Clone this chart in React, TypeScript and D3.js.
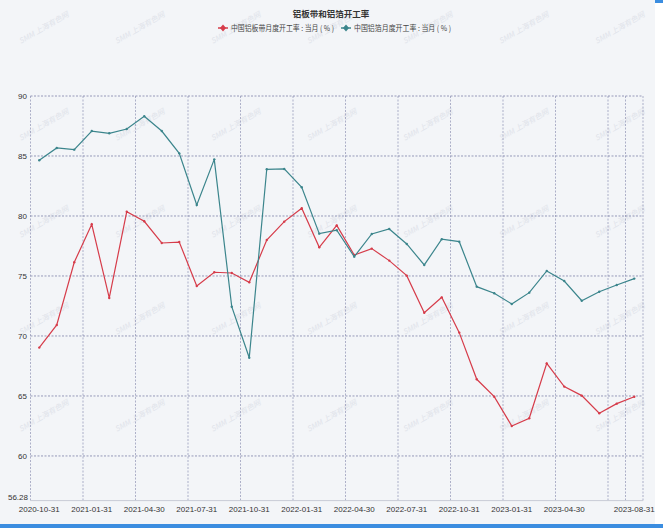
import React from "react";
import * as d3 from "d3";

const WIDTH = 663;
const HEIGHT = 528;

const TITLE = "铝板带和铝箔开工率";
const seriesNames = ["中国铝板带月度开工率 : 当月 ( % )", "中国铝箔月度开工率 : 当月 ( % )"];
const COLORS = ["#d63c4a", "#3b858c"];

const dates = [
  "2020-10-31", "2020-11-30", "2020-12-31",
  "2021-01-31", "2021-02-28", "2021-03-31", "2021-04-30", "2021-05-31", "2021-06-30",
  "2021-07-31", "2021-08-31", "2021-09-30", "2021-10-31", "2021-11-30", "2021-12-31",
  "2022-01-31", "2022-02-28", "2022-03-31", "2022-04-30", "2022-05-31", "2022-06-30",
  "2022-07-31", "2022-08-31", "2022-09-30", "2022-10-31", "2022-11-30", "2022-12-31",
  "2023-01-31", "2023-02-28", "2023-03-31", "2023-04-30", "2023-05-31", "2023-06-30",
  "2023-07-31", "2023-08-31",
];

const stripRate = [
  69.03, 70.92, 76.14, 79.31, 73.17, 80.36, 79.56, 77.75, 77.83, 74.17, 75.31, 75.25,
  74.47, 78.0, 79.53, 80.64, 77.39, 79.22, 76.75, 77.28, 76.28, 75.03, 71.94, 73.22,
  70.28, 66.39, 64.94, 62.5, 63.14, 67.72, 65.78, 65.03, 63.56, 64.36, 64.94,
];

const foilRate = [
  84.64, 85.67, 85.53, 87.08, 86.89, 87.25, 88.31, 87.08, 85.22, 80.92, 84.72, 72.44,
  68.19, 83.89, 83.92, 82.39, 78.53, 78.81, 76.61, 78.5, 78.92, 77.67, 75.92, 78.06,
  77.86, 74.11, 73.56, 72.67, 73.61, 75.42, 74.58, 72.94, 73.69, 74.25, 74.78,
];

const yTicks = [60, 65, 70, 75, 80, 85, 90];
const yMin = 56.28;
const yMax = 90;

const labelDates = [
  "2020-10-31", "2021-01-31", "2021-04-30", "2021-07-31", "2021-10-31", "2022-01-31",
  "2022-04-30", "2022-07-31", "2022-10-31", "2023-01-31", "2023-04-30", "2023-08-31",
];
const gridDates = [
  "2020-10-31", "2021-01-31", "2021-04-30", "2021-07-31", "2021-10-31", "2022-01-31",
  "2022-04-30", "2022-07-31", "2022-10-31", "2023-01-31", "2023-04-30", "2023-07-31",
  "2023-08-31",
];

const FONT = "'Noto Sans CJK SC', 'Liberation Sans', sans-serif";
const NUM_FONT = "'Liberation Sans', sans-serif";
const GRID = "#7d82a8";

function App() {
  const x = d3.scaleBand<string>().domain(dates).range([30.5, 643]);
  const y = d3.scaleLinear().domain([yMin, yMax]).range([500.6, 96]);
  const cx = (d: string) => (x(d) ?? 0) + x.bandwidth() / 2;

  const series = [stripRate, foilRate];
  const line = d3
    .line<number>()
    .x((_, i) => cx(dates[i]))
    .y((v) => y(v));

  const [x0, x1] = x.range();
  const [yb, yt] = y.range();

  // faint watermark grid
  const marks: [number, number][] = [];
  for (let r = 0; r < 5; r++)
    for (let c = 0; c < 7; c++) marks.push([45 + c * 96, 30 + r * 97]);

  const legendX = [223, 346];
  const legendW = [103, 97];

  return (
    <svg
      width={WIDTH}
      height={HEIGHT}
      style={{ position: "absolute", left: 0, top: 0, fontFamily: FONT }}
    >
      <rect x={0} y={0} width={655} height={524} fill="#f3f5f8" />
      <rect x={0} y={524} width={WIDTH} height={4} fill="#3b8de0" />
      <rect x={655} y={0} width={8} height={3} fill="#3b8de0" />

      {marks.map(([mx, my], i) => (
        <text
          key={i}
          x={mx}
          y={my}
          transform={`rotate(-30 ${mx} ${my})`}
          fontSize={7.5}
          fontStyle="italic"
          fill="#e0e3ea"
          textAnchor="middle"
        >
          SMM 上海有色网
        </text>
      ))}

      <text x={331} y={17} textAnchor="middle" fontSize={8.5} fontWeight={700} fill="#333">
        {TITLE}
      </text>

      {seriesNames.map((name, i) => (
        <g key={name} transform={`translate(${legendX[i]} 31)`}>
          <line x1={-5} x2={5} y1={-3} y2={-3} stroke={COLORS[i]} strokeWidth={1.5} />
          <path d="M0,-6.5L3,-3L0,0.5L-3,-3Z" fill={COLORS[i]} />
          <text
            x={8}
            y={0}
            fontSize={8}
            fill="#444"
            textLength={legendW[i]}
            lengthAdjust="spacingAndGlyphs"
          >
            {name}
          </text>
        </g>
      ))}

      {yTicks.map((t) => (
        <line
          key={t}
          x1={x0}
          x2={x1}
          y1={y(t)}
          y2={y(t)}
          stroke={GRID}
          strokeWidth={0.8}
          strokeDasharray="2,1.5"
        />
      ))}

      {gridDates.map((d) => (
        <line
          key={d}
          x1={x(d)}
          x2={x(d)}
          y1={yt}
          y2={yb}
          stroke={GRID}
          strokeOpacity={0.75}
          strokeWidth={0.8}
          strokeDasharray="2,1.5"
        />
      ))}
      <line x1={x1} x2={x1} y1={yt} y2={yb} stroke={GRID} strokeOpacity={0.75} strokeWidth={0.8} strokeDasharray="2,1.5" />
      <line x1={x0} x2={x1} y1={yb} y2={yb} stroke="#c8ccd6" strokeWidth={1} />

      {yTicks.map((t) => (
        <text key={t} x={27} y={y(t) + 3} textAnchor="end" fontSize={8} fill="#333" fontFamily={NUM_FONT}>
          {t}
        </text>
      ))}
      <text x={28} y={yb - 1} textAnchor="end" fontSize={8} fill="#333" fontFamily={NUM_FONT}>
        {yMin}
      </text>

      {labelDates.map((d) => (
        <text key={d} x={cx(d)} y={512} textAnchor="middle" fontSize={8} fill="#333" fontFamily={NUM_FONT}>
          {d}
        </text>
      ))}

      {series.map((values, s) => (
        <g key={s}>
          <path d={line(values) ?? ""} fill="none" stroke={COLORS[s]} strokeWidth={1.2} />
          {values.map((v, i) => (
            <circle key={i} cx={cx(dates[i])} cy={y(v)} r={1.2} fill={COLORS[s]} />
          ))}
        </g>
      ))}
    </svg>
  );
}

export default App;
